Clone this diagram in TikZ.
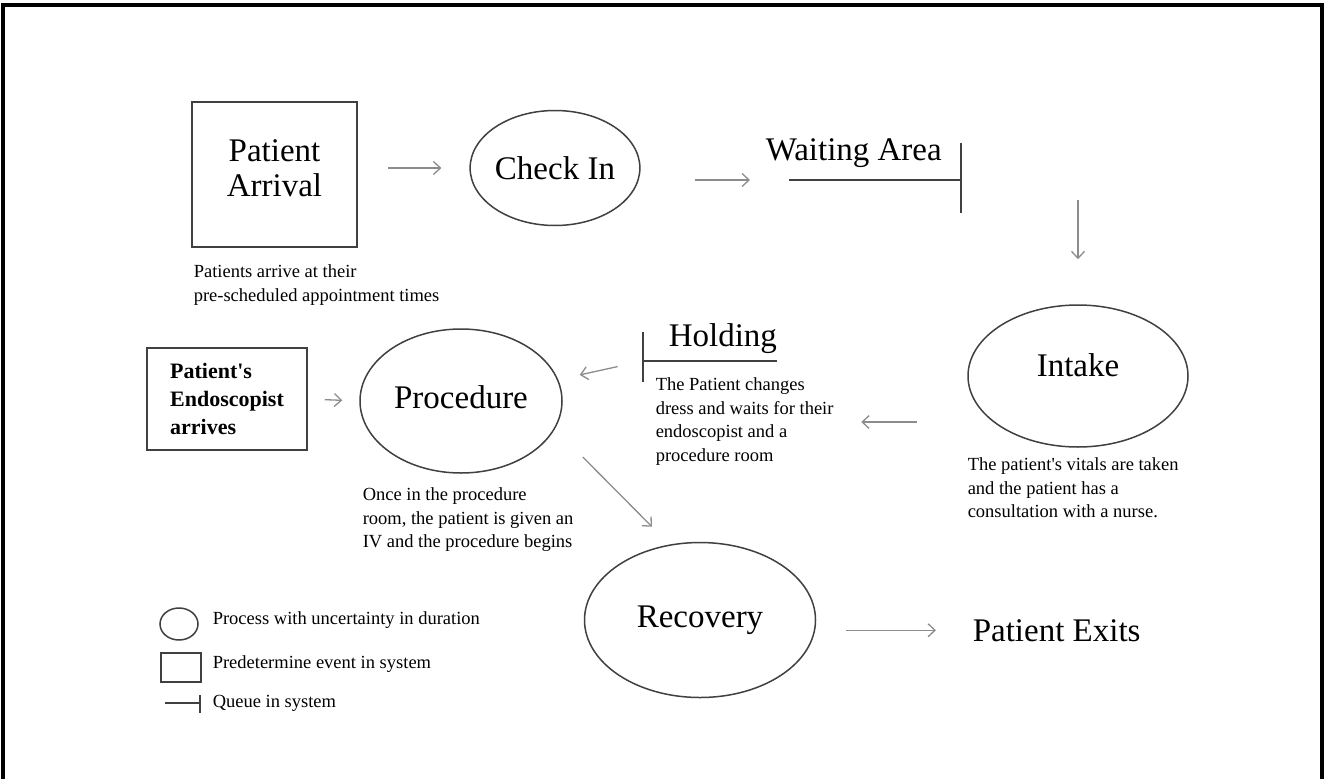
\documentclass[tikz,border=0pt]{standalone}
\usepackage{fontspec}
\setmainfont{Liberation Serif}
\usetikzlibrary{shapes.geometric,arrows.meta}

\begin{document}
\begin{tikzpicture}[x=1pt,y=-1pt,line width=1.5pt,
 proc/.style={ellipse,draw=black!75,inner sep=0pt,font=\fontsize{33}{36}\selectfont},
 event/.style={rectangle,draw=black!75,inner sep=0pt},
 big/.style={font=\fontsize{33}{36}\selectfont,inner sep=0pt},
 note/.style={font=\fontsize{18.5}{23.5}\selectfont,align=left,inner sep=0pt,anchor=north west},
 key/.style={font=\fontsize{18.5}{20}\selectfont,inner sep=0pt,anchor=west},
 flow/.style={draw=black!45,line width=1.3pt,-{Straight Barb[length=7pt,width=13pt]}},
 queue/.style={draw=black!75,line width=2pt}]
\useasboundingbox (0,0) rectangle (1327,779);
\draw[line width=3.5pt] (3,779)--(3,5)--(1322,5)--(1322,779);
% first row
\node[event,minimum width=165pt,minimum height=145pt,align=center,text depth=12pt,font=\fontsize{33}{35}\selectfont] (arrival) at (274.5,174.5) {Patient\\Arrival};
\node[note] (arrivalnote) at (193,264) {Patients arrive at their\\pre-scheduled appointment times};
\node[proc,minimum width=165pt,minimum height=115pt] (checkin) at (555,168) {Check In};
\coordinate (waitq) at (789,180);
\draw[queue] (waitq)--(961,180) ++(0,-37)--++(0,70);
\node[big,anchor=base west] (waiting) at (765,160) {Waiting Area};
% second row
\node[proc,minimum width=220pt,minimum height=142pt,text depth=22pt] (intake) at (1078,376) {Intake};
\node[note] (intakenote) at (967,457) {The patient\textquotesingle s vitals are taken\\and the patient has a\\consultation with a nurse.};
\coordinate (holdq) at (643,361);
\draw[queue] (holdq)--++(134,0) (holdq) ++(0,-29)--++(0,50);
\node[big,anchor=base west] (holding) at (668,346) {Holding};
\node[note] (holdnote) at (655,377) {The Patient changes\\dress and waits for their\\endoscopist and a\\procedure room};
\node[proc,minimum width=202pt,minimum height=144pt,text depth=8pt] (procedure) at (461,401) {Procedure};
\node[note] (procnote) at (362,487) {Once in the procedure\\room, the patient is given an\\IV and the procedure begins};
\node[event,minimum width=160pt,minimum height=102pt,align=left,font=\bfseries\fontsize{22}{28}\selectfont] (endo) at (227,399) {Patient\textquotesingle s\\Endoscopist\\arrives};
% third row
\node[proc,minimum width=231pt,minimum height=155pt] (recovery) at (700,620) {Recovery};
\node[big,anchor=base west] (exits) at (972,641) {Patient Exits};
% arrows
\draw[flow,shorten <=30pt,shorten >=28pt] (arrival.east |- checkin.west)--(checkin.west);
\draw[flow,shorten <=54pt,shorten >=39pt] (checkin.east |- waitq)--(waitq);
\draw[flow,shorten <=20pt,shorten >=45pt] (intake.north |- waitq)--(intake.north);
\draw[flow] ([shift={(-50,46)}]intake.west)--++(-56,0);
\draw[flow,shorten <=26pt,shorten >=22pt] (holdq)--(procedure);
\draw[flow,shorten <=17pt,shorten >=17pt] (endo.east)--(procedure.west);
\draw[flow] ([shift={(20,56)}]procedure.east)--([shift={(-48,-15)}]recovery.north);
\draw[flow,shorten <=30pt,shorten >=36pt] (recovery.east |- exits.west)--(exits.west);
% key
\node[ellipse,draw=black!75,minimum width=38pt,minimum height=32pt,inner sep=0pt] (keyproc) at (179,624) {};
\node[event,minimum width=40pt,minimum height=29pt] (keyevent) at (181,667.5) {};
\coordinate (keyqueue) at (200,703);
\draw[queue] (keyqueue)--++(-35,0) (keyqueue) ++(0,-8)--++(0,18);
\foreach \y/\t/\n in {620/Process with uncertainty in duration/keyproc,664/Predetermine event in system/keyevent,703/Queue in system/keyqueue}
 \node[key] (\n text) at (212,\y) {\t};
\end{tikzpicture}
\end{document}
